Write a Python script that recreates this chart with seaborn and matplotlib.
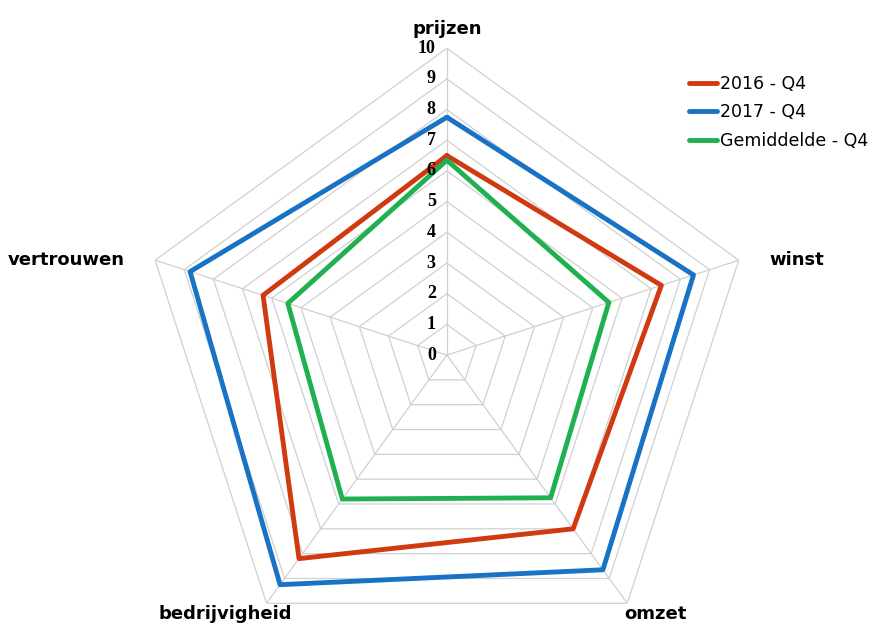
import matplotlib
matplotlib.use("Agg")
import matplotlib.pyplot as plt
import numpy as np
import seaborn as sns

categories = ["prijzen", "winst", "omzet", "bedrijvigheid", "vertrouwen"]
series_names = ["2016 - Q4", "2017 - Q4", "Gemiddelde - Q4"]
values_2016 = [6.5, 7.35, 7.0, 8.2, 6.3]
values_2017 = [7.75, 8.45, 8.65, 9.25, 8.8]
values_avg = [6.35, 5.55, 5.75, 5.8, 5.45]
colors = ["#d03a10", "#1a72c4", "#1fb050"]
levels = list(range(0, 11))

sns.set_style("white")
plt.rcParams["font.family"] = ["DejaVu Sans"]
plt.rcParams["text.color"] = "black"

fig = plt.figure(figsize=(8.92, 6.24), dpi=100)
ax = fig.add_axes([0.157, -0.061, 0.688, 0.984], projection="polar")
ax.set_theta_offset(np.pi / 2)
ax.set_theta_direction(-1)

n = len(categories)
theta = np.linspace(0, 2 * np.pi, n, endpoint=False)
theta_c = np.append(theta, theta[0])

# polygon grid
for lv in levels[1:]:
    ax.plot(theta_c, [lv] * (n + 1), color="#d0d0d0", lw=0.9, zorder=1)
for t in theta:
    ax.plot([t, t], [0, 10], color="#d0d0d0", lw=0.9, zorder=1)

for vals, name, c in zip([values_2016, values_2017, values_avg], series_names, colors):
    ax.plot(theta_c, vals + vals[:1], color=c, lw=3.5, label=name, zorder=3)

ax.set_ylim(0, 10)
ax.grid(False)
ax.spines["polar"].set_visible(False)
ax.set_yticks([])
ax.set_xticks([])

for lv in levels:
    ax.annotate(str(lv), xy=(0, lv), xytext=(-8, 0), textcoords="offset points",
                ha="right", va="center", fontsize=13, fontweight="bold",
                family=["Liberation Serif", "DejaVu Serif"])

offsets = [(0, 14), (22, 0), (20, -8), (-30, -8), (-22, 0)]
has = ["center", "left", "center", "center", "right"]
for t, cat, off, ha in zip(theta, categories, offsets, has):
    ax.annotate(cat, xy=(t, 10), xytext=off, textcoords="offset points",
                ha=ha, va="center", fontsize=13, fontweight="bold")

fig.legend(loc="upper left", bbox_to_anchor=(0.755, 0.905), frameon=False,
           fontsize=12.5, handlelength=1.6, handletextpad=0.2, labelspacing=0.6)

fig.savefig("out.png", dpi=100)
